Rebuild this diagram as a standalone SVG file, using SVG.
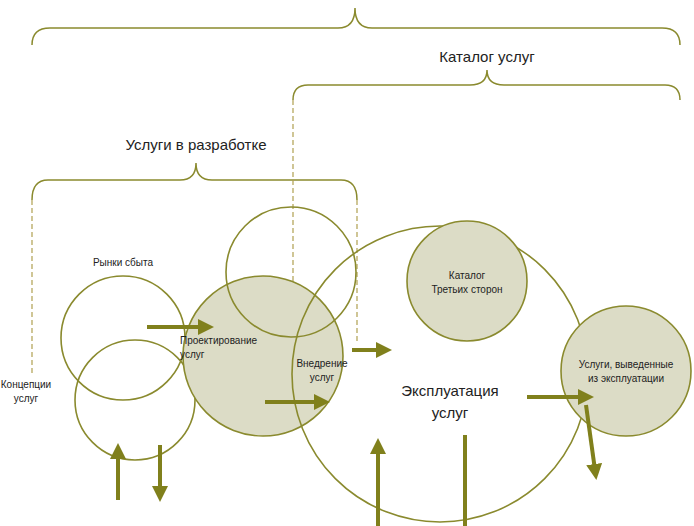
<svg xmlns="http://www.w3.org/2000/svg" width="694" height="526" viewBox="0 0 694 526">
<style>
.br{fill:none;stroke:#8a8a2e;stroke-width:1.5}
.ds{fill:none;stroke:#b0a050;stroke-width:1.2;stroke-dasharray:5,3}
.c{fill:none;stroke:#8a8a2e;stroke-width:1.6}
.f{fill:#dcdcc6;stroke:#8a8a2e;stroke-width:1.6}
.a{stroke:#80801c;stroke-width:4;fill:none}
text{font-family:"Liberation Sans",Arial,sans-serif;fill:#222}
.s{font-size:10px}
.b{font-size:15px}
</style>
<defs><marker id="m" markerWidth="4" markerHeight="4" refX="1.5" refY="2" orient="auto"><path d="M0,0L4,2L0,4z" fill="#80801c"/></marker></defs>
<rect width="694" height="526" fill="#fff"/>
<g id="braces">
<path class="br" d="M32,45 Q32,28 50,28 L338,28 Q355,28 355,8 Q355,28 372,28 L662,28 Q680,28 680,45"/>
<path class="br" d="M293,100 Q293,85 308,85 L470,85 Q487,85 487,70 Q487,85 504,85 L665,85 Q680,85 680,100"/>
<path class="br" d="M32,200 Q32,180 48,180 L180,180 Q196,180 196,163 Q196,180 212,180 L341,180 Q357,180 357,200"/>
<path class="ds" d="M32,200V375M293,100V362M357,200V342"/>
</g>
<g id="n-markets"><circle class="c" cx="123" cy="338" r="62"/><text class="s" x="123" y="266" text-anchor="middle">Рынки сбыта</text></g>
<g id="n-concept"><circle class="c" cx="135" cy="400" r="60"/><text class="s" x="26" y="388" text-anchor="middle">Концепции</text><text class="s" x="26" y="402" text-anchor="middle">услуг</text></g>
<g id="n-design"><circle class="f" cx="263" cy="356" r="80"/><text class="s" x="180" y="344">Проектирование</text><text class="s" x="180" y="358">услуг</text></g>
<g id="n-top"><circle class="c" cx="291" cy="272" r="65"/></g>
<g id="n-ops"><circle class="c" cx="440" cy="374" r="148"/><text class="b" x="450" y="396" text-anchor="middle">Эксплуатация</text><text class="b" x="450" y="418" text-anchor="middle">услуг</text></g>
<g id="n-impl"><text class="s" x="322" y="367" text-anchor="middle">Внедрение</text><text class="s" x="322" y="381" text-anchor="middle">услуг</text></g>
<g id="n-third"><circle class="f" cx="467" cy="281" r="60"/><text class="s" x="467" y="279" text-anchor="middle">Каталог</text><text class="s" x="467" y="293" text-anchor="middle">Третьих сторон</text></g>
<g id="n-retired"><circle class="f" cx="626" cy="371" r="65"/><text class="s" x="626" y="368" text-anchor="middle">Услуги, выведенные</text><text class="s" x="626" y="382" text-anchor="middle">из эксплуатации</text></g>
<g id="labels"><text class="b" x="487" y="62" text-anchor="middle">Каталог услуг</text><text class="b" x="196" y="150" text-anchor="middle">Услуги в разработке</text></g>
<g id="connectors">
<path class="a" marker-end="url(#m)" d="M147,327H204"/>
<path class="a" marker-end="url(#m)" d="M352,350H382"/>
<path class="a" marker-end="url(#m)" d="M265,402H320"/>
<path class="a" marker-end="url(#m)" d="M527,397H584"/>
<path class="a" marker-end="url(#m)" d="M586,405L595,470"/>
<path class="a" marker-end="url(#m)" d="M118,500V453"/>
<path class="a" marker-end="url(#m)" d="M160,445V492"/>
<path class="a" marker-end="url(#m)" d="M378,526V448"/>
<path class="a" d="M465,526V435"/>
</g>
</svg>
